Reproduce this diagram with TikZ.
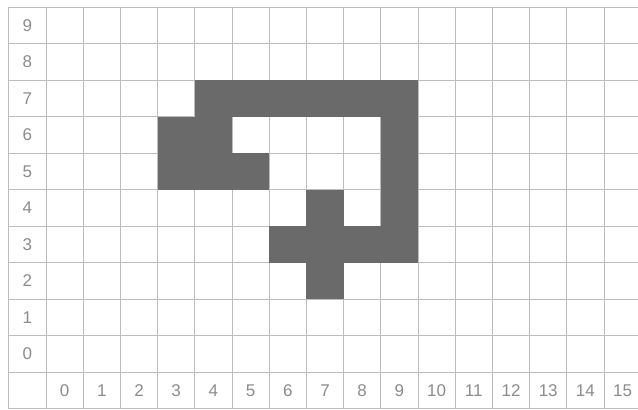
\documentclass[tikz,border=0pt]{standalone}
\usepackage{fontspec}
\setmainfont{Liberation Sans}
\usepackage{xcolor}
\definecolor{gridgray}{HTML}{BDBDBD}
\definecolor{labelgray}{HTML}{8C8C8C}
\definecolor{cellgray}{HTML}{6A6A6A}
\tikzset{
  gridline/.style={draw=gridgray, line width=0.7pt},
  cellfill/.style={fill=cellgray, draw=none},
  axislabel/.style={text=labelgray, font=\fontsize{17}{19}\selectfont, inner sep=0pt},
}

\begin{document}
\begin{tikzpicture}[x=37.2pt, y=36.5pt]
\clip (-1.2366,-1.041) rectangle (15.914,10.192);
\fill[white] (-1.2366,-1.041) rectangle (15.914,10.192);
% grid
\foreach \r in {-1,...,10}
  \draw[gridline] (-1,\r) -- (16,\r);
\foreach \c in {-1,...,16}
  \draw[gridline] (\c,-1) -- (\c,10);
% shaded cells
\foreach \c/\r in {4/7,5/7,6/7,7/7,8/7,9/7,3/6,4/6,9/6,3/5,4/5,5/5,9/5,
                   7/4,9/4,6/3,7/3,8/3,9/3,7/2}
  \fill[cellfill] (\c,\r) rectangle ++(1,1);
% labels
\foreach \r in {0,...,9}
  \node[axislabel] (row-\r) at (-0.5,\r+0.5) {\r};
\foreach \c in {0,...,15}
  \node[axislabel] (col-\c) at (\c+0.5,-0.5) {\c};
\end{tikzpicture}
\end{document}
